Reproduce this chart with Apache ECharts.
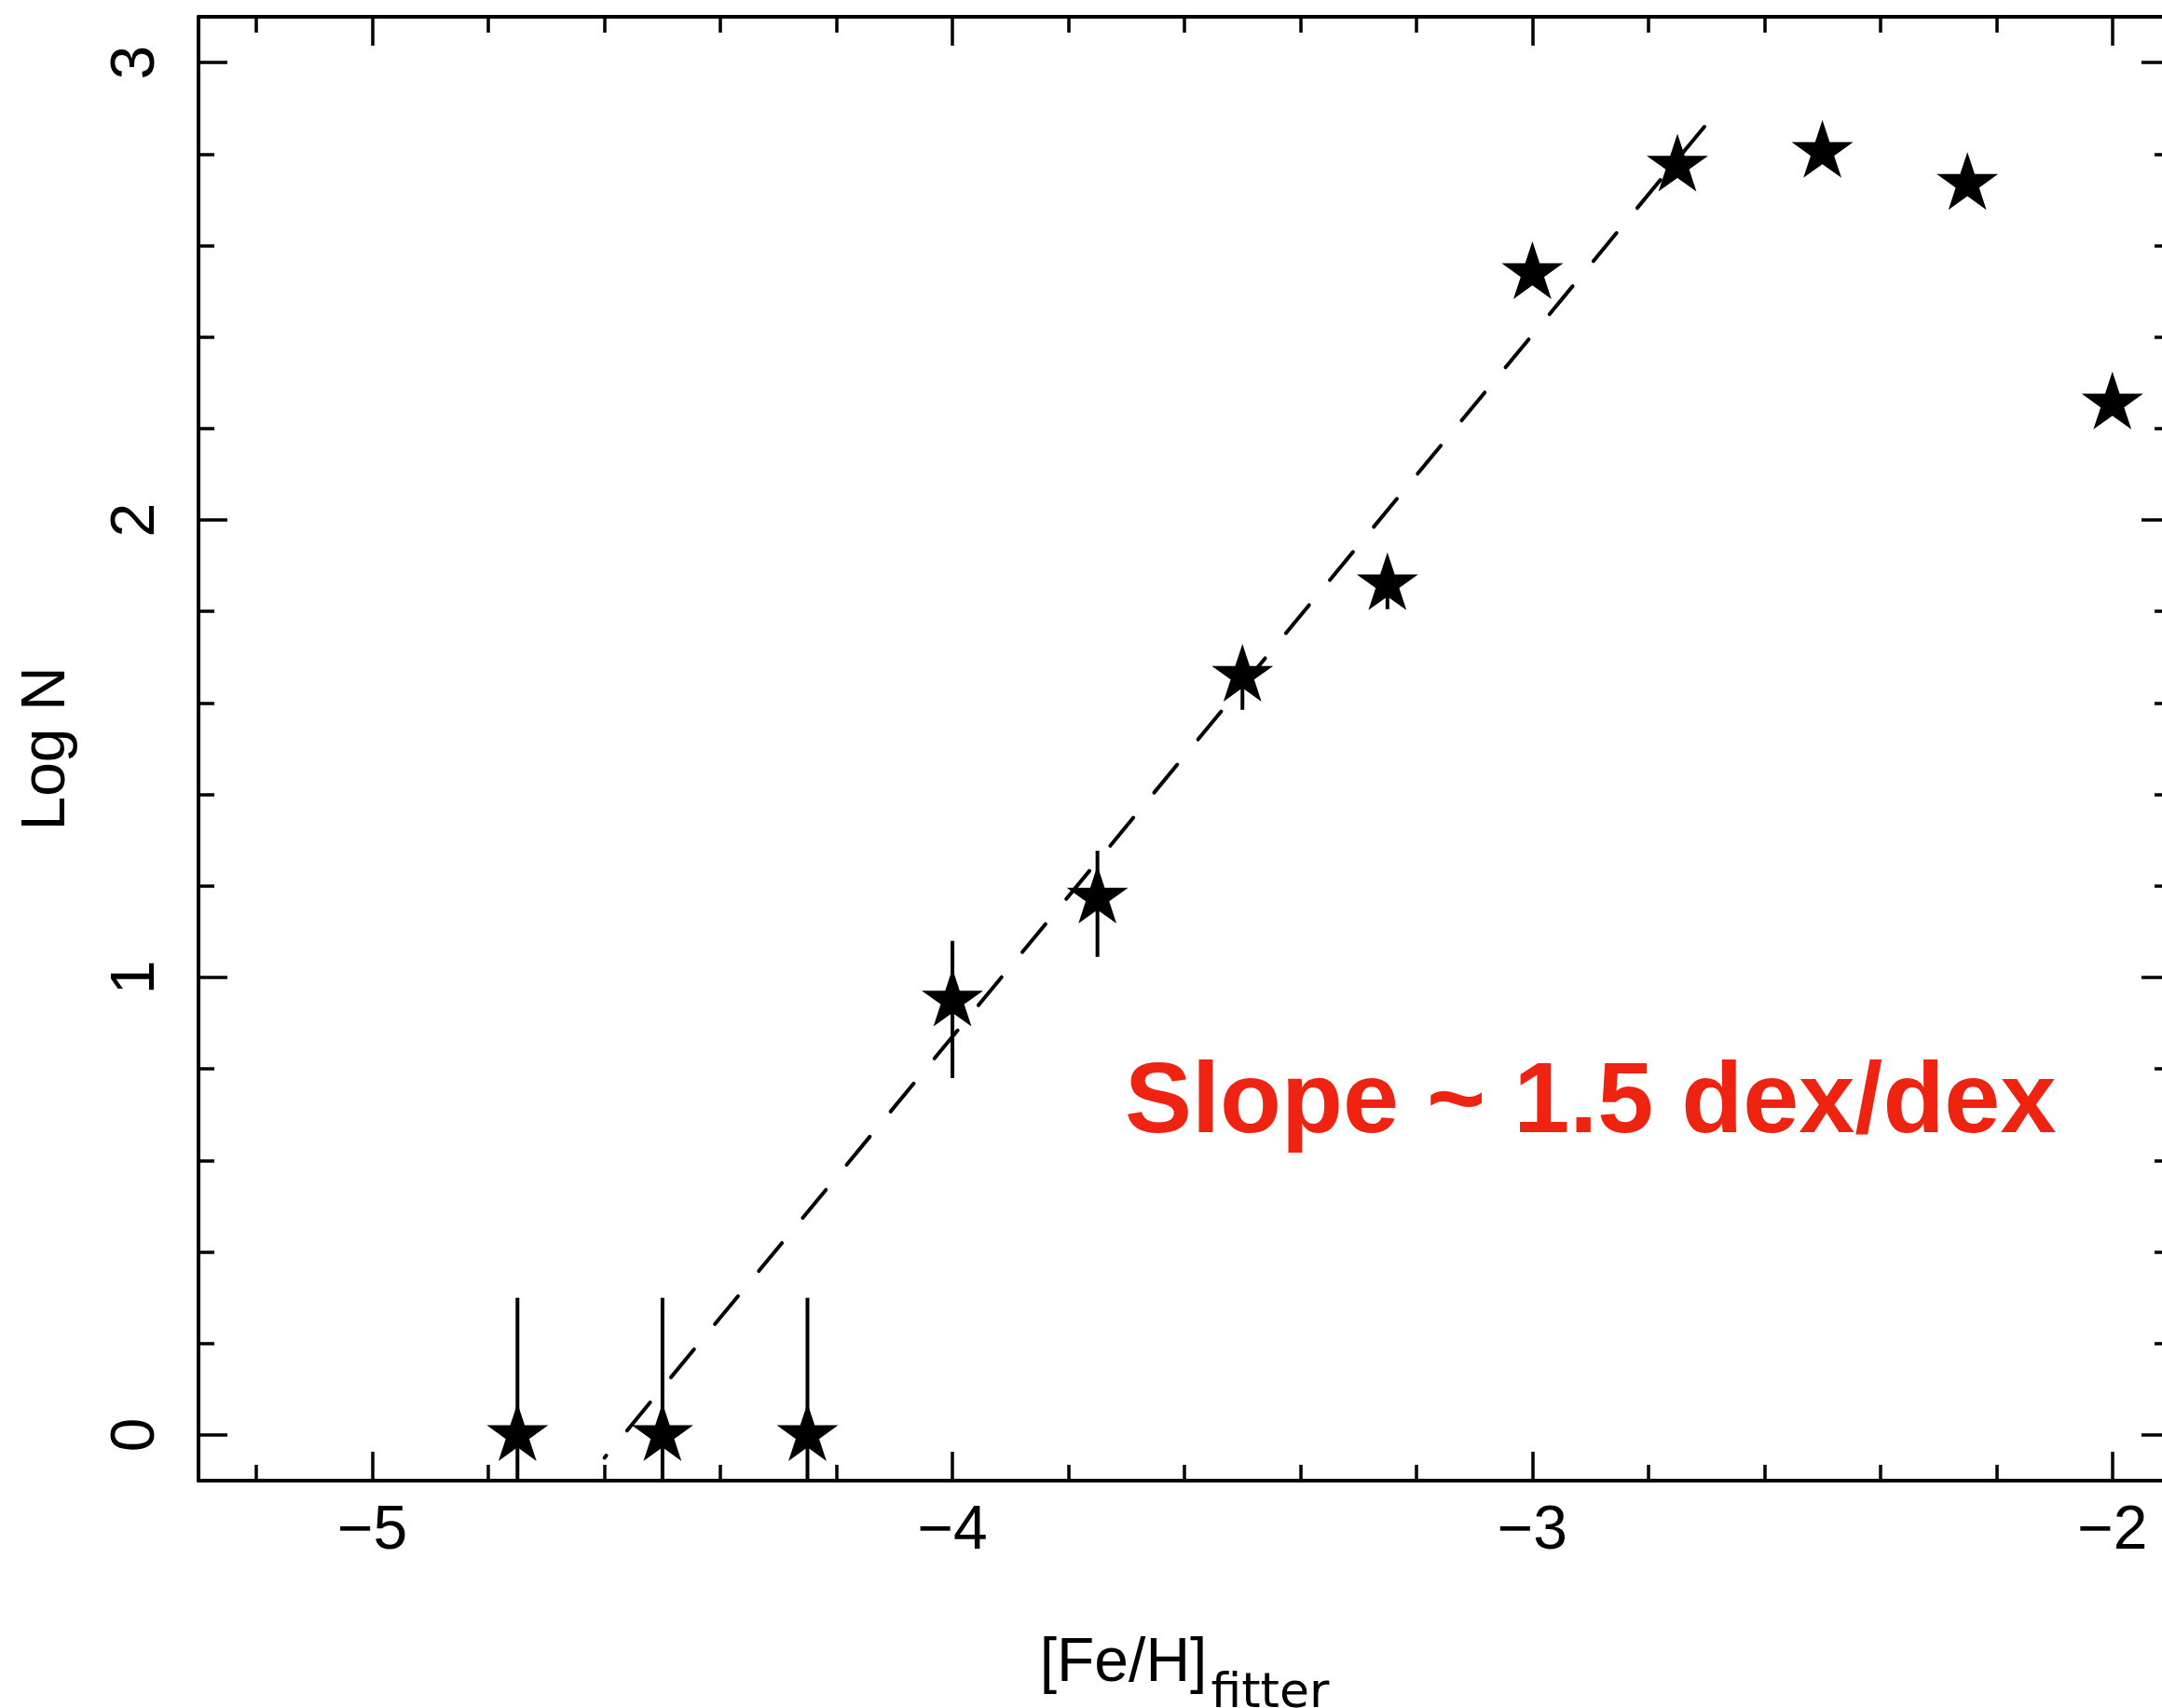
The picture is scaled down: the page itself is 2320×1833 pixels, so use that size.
<!DOCTYPE html>
<html>
<head>
<meta charset="utf-8">
<script src="https://cdn.jsdelivr.net/npm/echarts@6/dist/echarts.min.js"></script>
<style>
  html, body { margin: 0; padding: 0; background: #fff; }
  #chart { width: 2320px; height: 1833px; }
</style>
</head>
<body>
<div id="chart"></div>
<script>
  // bin centres in [Fe/H] and log N of each bin
  const feh = [-4.75, -4.5, -4.25, -4.0, -3.75, -3.5, -3.25, -3.0, -2.75, -2.5, -2.25, -2.0];
  const logN = [0, 0, 0, 0.95, 1.175, 1.66, 1.86, 2.54, 2.775, 2.805, 2.735, 2.255];
  // error bar ends (first three run down off the axis)
  const errLow = [-0.1, -0.1, -0.1, 0.78, 1.045, 1.585, 1.805, 2.52, 2.76, 2.79, 2.72, 2.23];
  const errHigh = [0.30, 0.30, 0.30, 1.08, 1.277, 1.715, 1.905, 2.56, 2.79, 2.82, 2.75, 2.28];
  // dashed fit, end points
  const fitX = [-4.60, -2.70];
  const fitY = [-0.05, 2.865];
  // ticks
  const xMajor = [-5, -4, -3, -2];
  const xMinor = [-5.2, -4.8, -4.6, -4.4, -4.2, -3.8, -3.6, -3.4, -3.2, -2.8, -2.6, -2.4, -2.2];
  const yMajor = [0, 1, 2, 3];
  const yMinor = [0.2, 0.4, 0.6, 0.8, 1.2, 1.4, 1.6, 1.8, 2.2, 2.4, 2.6, 2.8];

  const FONT = '"Liberation Sans", Arial, sans-serif';
  const SUB_FONT = '"DejaVu Sans", sans-serif';
  const INK = '#000';
  const X_RANGE = [-5.3, -1.9];
  const Y_RANGE = [-0.1, 3.1];
  const MAJOR_LEN = 31;
  const MINOR_LEN = 17;

  // star marker, outer radius 50, regular pentagram
  const starPath = 'path://M50 0 L61.23 34.55 L97.55 34.55 L68.17 55.9 L79.39 90.45 L50 69.1 L20.61 90.45 L31.83 55.9 L2.45 34.55 L38.77 34.55 Z';

  const gridBox = { left: 213, top: 18, width: 2116, height: 1571, outerBoundsMode: 'none' };

  // one axis = one side of the frame; the second grid only carries the minor ticks
  function makeX(gridIndex, position, ticks, len, showLine) {
    return {
      type: 'value', gridIndex, position,
      min: X_RANGE[0], max: X_RANGE[1],
      axisLine: { show: showLine, onZero: false, lineStyle: { color: INK, width: 4 } },
      axisTick: { show: true, inside: true, length: len, customValues: ticks, lineStyle: { color: INK, width: 3.5 } },
      axisLabel: { show: false },
      splitLine: { show: false },
    };
  }
  function makeY(gridIndex, position, ticks, len, showLine) {
    return {
      type: 'value', gridIndex, position,
      min: Y_RANGE[0], max: Y_RANGE[1],
      axisLine: { show: showLine, onZero: false, lineStyle: { color: INK, width: 4 } },
      axisTick: { show: true, inside: true, length: len, customValues: ticks, lineStyle: { color: INK, width: 3.5 } },
      axisLabel: { show: false },
      splitLine: { show: false },
    };
  }

  const xBottom = makeX(0, 'bottom', xMajor, MAJOR_LEN, true);
  xBottom.axisLabel = {
    show: true, customValues: xMajor, margin: 22,
    fontSize: 66, fontFamily: FONT, color: INK,
    formatter: (v) => String(v).replace('-', '\u2212'),
  };
  xBottom.name = '{a|[Fe/H]}{b|fitter}';
  xBottom.nameLocation = 'middle';
  xBottom.nameGap = 162;
  xBottom.nameTextStyle = {
    rich: {
      a: { fontSize: 66, lineHeight: 70, fontFamily: FONT, color: INK },
      b: { fontSize: 52, lineHeight: 52, padding: [64, 0, 0, 4], fontFamily: SUB_FONT, color: INK },
    },
  };

  const yLeft = makeY(0, 'left', yMajor, MAJOR_LEN, true);
  yLeft.axisLabel = {
    show: true, customValues: yMajor, margin: 33, rotate: 90,
    fontSize: 66, fontFamily: FONT, color: INK,
  };
  yLeft.name = 'Log N';
  yLeft.nameLocation = 'middle';
  yLeft.nameRotate = 90;
  yLeft.nameGap = 129;
  yLeft.nameTextStyle = { fontSize: 66, fontFamily: FONT, color: INK };

  const option = {
    backgroundColor: '#fff',
    animation: false,
    grid: [Object.assign({}, gridBox), Object.assign({}, gridBox)],
    xAxis: [
      xBottom,
      makeX(0, 'top', xMajor, MAJOR_LEN, true),
      makeX(1, 'bottom', xMinor, MINOR_LEN, false),
      makeX(1, 'top', xMinor, MINOR_LEN, false),
    ],
    yAxis: [
      yLeft,
      makeY(0, 'right', yMajor, MAJOR_LEN, true),
      makeY(1, 'left', yMinor, MINOR_LEN, false),
      makeY(1, 'right', yMinor, MINOR_LEN, false),
    ],
    series: [
      {
        name: 'err',
        type: 'custom',
        xAxisIndex: 0, yAxisIndex: 0,
        clip: true,
        data: feh.map((x, i) => [x, errLow[i], errHigh[i]]),
        encode: { x: 0, y: [1, 2] },
        renderItem: (params, api) => {
          const lo = api.coord([api.value(0), api.value(1)]);
          const hi = api.coord([api.value(0), api.value(2)]);
          return {
            type: 'line',
            shape: { x1: lo[0], y1: lo[1], x2: hi[0], y2: hi[1] },
            style: { stroke: INK, lineWidth: 4 },
          };
        },
        z: 2,
      },
      {
        name: 'logN',
        type: 'scatter',
        xAxisIndex: 0, yAxisIndex: 0,
        data: feh.map((x, i) => [x, logN[i]]),
        symbol: starPath,
        symbolSize: [66, 62],
        symbolOffset: [0, -3],
        itemStyle: { color: INK, opacity: 1 },
        z: 3,
      },
      {
        name: 'fit',
        type: 'line',
        xAxisIndex: 0, yAxisIndex: 0,
        data: fitX.map((x, i) => [x, fitY[i]]),
        symbol: 'none',
        lineStyle: { color: INK, width: 4, type: [39, 35], dashOffset: 36, cap: 'round' },
        z: 4,
      },
    ],
    graphic: [
      {
        type: 'text',
        x: 1207, y: 1185,
        style: {
          text: 'Slope ~ 1.5 dex/dex',
          font: 'bold 108px ' + FONT,
          fill: '#EE2311',
          align: 'left',
          verticalAlign: 'middle',
        },
      },
    ],
  };

  const chart = echarts.init(document.getElementById('chart'));
  chart.setOption(option);
</script>
</body>
</html>
